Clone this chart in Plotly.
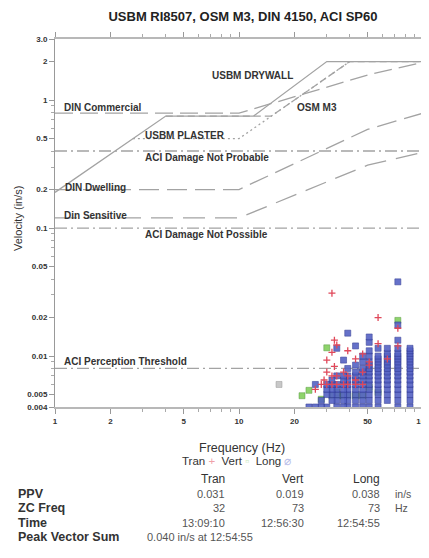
import numpy as np
import plotly.graph_objects as go

# ---------------- data ----------------
# criteria curves (frequency Hz, velocity in/s)
osm_freq = [1, 4, 12, 30, 100]
osm_vel = [0.19, 0.75, 0.75, 2.0, 2.0]
usbm_dry_freq = [4, 15, 40, 100]
usbm_dry_vel = [0.75, 0.75, 2.0, 2.0]
usbm_pl_freq = [2.65, 10, 40]
usbm_pl_vel = [0.5, 0.5, 2.0]
din_freq = [1, 10, 50, 100]
din_comm_vel = [0.79, 0.79, 1.57, 1.97]
din_dwell_vel = [0.20, 0.20, 0.59, 0.79]
din_sens_vel = [0.12, 0.12, 0.31, 0.39]
aci_freq = [1, 100]
aci_not_probable = [0.4, 0.4]
aci_not_possible = [0.1, 0.1]
aci_perception = [0.008, 0.008]

# measured points
long_col_freq = [85, 73, 64, 57, 51, 47, 43, 39, 37, 34, 32, 30, 28, 26, 24]
long_col_vel = [
    [0.0040, 0.0045, 0.0050, 0.0055, 0.0060, 0.0065, 0.0070, 0.0075, 0.0080, 0.0085, 0.0090, 0.0095, 0.0100, 0.0105, 0.0110, 0.0115],
    [0.0040, 0.0045, 0.0050, 0.0055, 0.0060, 0.0065, 0.0070, 0.0075, 0.0080, 0.0085, 0.0090, 0.0095, 0.0100, 0.0105, 0.0115, 0.0133, 0.0175, 0.0380],
    [0.0045, 0.0050, 0.0055, 0.0060, 0.0065, 0.0070, 0.0075, 0.0080, 0.0085, 0.0090, 0.0095, 0.0100, 0.0105, 0.0115],
    [0.0040, 0.0045, 0.0050, 0.0055, 0.0060, 0.0065, 0.0070, 0.0075, 0.0080, 0.0085, 0.0090, 0.0095, 0.0100, 0.0115],
    [0.0040, 0.0045, 0.0050, 0.0055, 0.0060, 0.0065, 0.0070, 0.0075, 0.0080, 0.0085, 0.0090, 0.0100, 0.0110, 0.0128, 0.0141],
    [0.0040, 0.0045, 0.0050, 0.0055, 0.0060, 0.0065, 0.0070, 0.0075, 0.0080, 0.0090, 0.0100],
    [0.0040, 0.0045, 0.0050, 0.0055, 0.0060, 0.0065, 0.0070, 0.0075, 0.0085, 0.0120],
    [0.0040, 0.0045, 0.0050, 0.0055, 0.0060, 0.0065, 0.0070, 0.0080, 0.0151],
    [0.0040, 0.0045, 0.0050, 0.0055, 0.0060, 0.0065, 0.0070, 0.0093],
    [0.0040, 0.0045, 0.0050, 0.0055, 0.0060, 0.0070, 0.0115],
    [0.0045, 0.0050, 0.0055, 0.0060, 0.0065],
    [0.0040, 0.0050, 0.0055, 0.0060],
    [0.0040, 0.0045],
    [0.0040, 0.0060],
    [0.0040],
]
tran_freq = [32, 57, 73, 33, 34, 32, 30, 33, 47, 39, 51, 43, 29, 30, 32, 34, 37, 39, 43, 47, 51, 57, 26, 28, 30, 32, 34, 37, 39, 43, 47, 64, 73]
tran_vel = [0.031, 0.020, 0.0165, 0.0133, 0.0122, 0.0107, 0.0093, 0.0083, 0.0104, 0.011, 0.009, 0.0095, 0.0065, 0.0075, 0.007, 0.007, 0.0075, 0.007, 0.0065, 0.0075, 0.0085, 0.0125, 0.0055, 0.006, 0.006, 0.006, 0.006, 0.006, 0.006, 0.006, 0.006, 0.0095, 0.012]
vert_freq = [73, 30, 22, 24, 35, 37, 39, 51, 47, 43, 32, 34, 28, 57]
vert_vel = [0.019, 0.0116, 0.0049, 0.0054, 0.0049, 0.0049, 0.0049, 0.0057, 0.0049, 0.0049, 0.0049, 0.0052, 0.0046, 0.0052]
misc_freq = [16.5]
misc_vel = [0.006]

x_tickvals = [1, 2, 5, 10, 20, 50, 100]
x_ticktext = ["1", "2", "5", "10", "20", "50", "100"]
x_minor = [3, 4, 6, 7, 8, 9, 30, 40, 60, 70, 80, 90]
y_tickvals = [0.004, 0.005, 0.01, 0.02, 0.05, 0.1, 0.2, 0.5, 1, 2, 3]
y_ticktext = ["0.004", "0.005", "0.01", "0.02", "0.05", "0.1", "0.2", "0.5", "1", "2", "3.0"]
y_minor = [0.006, 0.007, 0.008, 0.009, 0.03, 0.04, 0.06, 0.07, 0.08, 0.09,
           0.3, 0.4, 0.6, 0.7, 0.8, 0.9]

curve_labels = [
    ("USBM DRYWALL", 6.95, 1.57),
    ("DIN Commercial", 1.09, 0.88),
    ("OSM M3", 20.2, 0.88),
    ("USBM PLASTER", 3.0, 0.533),
    ("ACI Damage Not Probable", 3.0, 0.359),
    ("DIN Dwelling", 1.1, 0.209),
    ("Din Sensitive", 1.09, 0.126),
    ("ACI Damage Not Possible", 3.0, 0.0898),
    ("ACI Perception Threshold", 1.09, 0.0090),
]

table_cols = ["Tran", "Vert", "Long"]
ppv_vals = ["0.031", "0.019", "0.038"]
zc_vals = ["32", "73", "73"]
time_vals = ["13:09:10", "12:56:30", "12:54:55"]
pvs_text = "0.040 in/s at 12:54:55"

# ---------------- figure ----------------
OFF = 8  # page body margin
W, H = 429 - OFF, 558 - OFF
# plot area in page pixels: x 55..423, y 39..407
X0, X1, Y0, Y1 = 55, 423, 39, 407
L, T = X0 - OFF, Y0 - OFF
R, B = W - (X1 - OFF), H - (Y1 - OFF)
PW, PH = X1 - X0, Y1 - Y0

def px(x):
    return (x - X0) / PW

def py(y):
    return (Y1 - y) / PH

LINE = "#a3a3a3"
fig = go.Figure()

def add_line(xs, ys, dash, width=1.3):
    fig.add_trace(go.Scatter(x=xs, y=ys, mode="lines", showlegend=False,
                             line=dict(color=LINE, width=width, dash=dash),
                             hoverinfo="skip"))

add_line(aci_freq, aci_not_probable, "12px,4px,2px,4px")
add_line(aci_freq, aci_not_possible, "12px,4px,2px,4px")
add_line(aci_freq, aci_perception, "12px,4px,2px,4px")
add_line(din_freq, din_comm_vel, "18px,7px")
add_line(din_freq, din_dwell_vel, "20px,8px")
add_line(din_freq, din_sens_vel, "22px,10px")
add_line(usbm_pl_freq, usbm_pl_vel, "2px,3px")
add_line(usbm_dry_freq, usbm_dry_vel, "7px,4px")
add_line(osm_freq, osm_vel, "solid")

long_f = [f for f, vs in zip(long_col_freq, long_col_vel) for _ in vs]
long_v = [v for vs in long_col_vel for v in vs]

fig.add_trace(go.Scatter(x=misc_freq, y=misc_vel, mode="markers", showlegend=False,
                         marker=dict(symbol="square", size=6, color="#c8c8c8",
                                     line=dict(color="#999", width=0.5))))
fig.add_trace(go.Scatter(x=vert_freq, y=vert_vel, mode="markers", name="Vert", showlegend=False,
                         marker=dict(symbol="square", size=6, color="#8ed36c",
                                     line=dict(color="#5a9a44", width=0.5))))
fig.add_trace(go.Scatter(x=long_f, y=long_v, mode="markers", name="Long", showlegend=False,
                         marker=dict(symbol="square", size=6, color="#5562c4", opacity=0.9,
                                     line=dict(color="#2d3592", width=0.6))))
fig.add_trace(go.Scatter(x=tran_freq, y=tran_vel, mode="markers", name="Tran", showlegend=False,
                         marker=dict(symbol="cross-thin", size=5,
                                     line=dict(color="#e0485a", width=1.3))))

FONT = "Liberation Sans"
annotations = []
for txt, fx, fv in curve_labels:
    annotations.append(dict(x=np.log10(fx), y=np.log10(fv), xref="x", yref="y",
                            text=txt, showarrow=False, xanchor="left", yanchor="middle",
                            font=dict(family=FONT, size=10, color="#333", weight="bold")))

# axis titles / legend line
annotations.append(dict(x=px(18), y=py(219), xref="paper", yref="paper", text="Velocity (in/s)",
                        textangle=-90, showarrow=False, xanchor="center", yanchor="middle",
                        font=dict(family=FONT, size=11, color="#333")))
annotations.append(dict(x=px(242), y=py(448), xref="paper", yref="paper", text="Frequency (Hz)",
                        showarrow=False, xanchor="center", yanchor="middle",
                        font=dict(family=FONT, size=12.5, color="#333")))
annotations.append(dict(x=px(236), y=py(461), xref="paper", yref="paper",
                        text="Tran <span style='color:#f0a0a8'>+</span>  Vert <span style='color:#c8e8b8'>\u25ab</span>  Long <span style='color:#b8bde8'>\u2300</span>",
                        showarrow=False, xanchor="center", yanchor="middle",
                        font=dict(family=FONT, size=11.5, color="#333")))

# table
col_right = [227, 306, 382]
for cx, name in zip(col_right, table_cols):
    annotations.append(dict(x=px(cx), y=py(479), xref="paper", yref="paper", text=name,
                            showarrow=False, xanchor="right", yanchor="middle",
                            font=dict(family=FONT, size=12, color="#333")))
rows = [("PPV", ppv_vals, 494, "in/s"), ("ZC Freq", zc_vals, 508, "Hz"), ("Time", time_vals, 523, "")]
for lab, vals, yy, unit in rows:
    annotations.append(dict(x=px(16), y=py(yy), xref="paper", yref="paper", text=lab,
                            showarrow=False, xanchor="left", yanchor="middle",
                            font=dict(family=FONT, size=12.5, color="#333", weight="bold")))
    for cx, v in zip(col_right, vals):
        annotations.append(dict(x=px(cx), y=py(yy), xref="paper", yref="paper", text=v,
                                showarrow=False, xanchor="right", yanchor="middle",
                                font=dict(family=FONT, size=11, color="#555")))
    if unit:
        annotations.append(dict(x=px(393), y=py(yy), xref="paper", yref="paper", text=unit,
                                showarrow=False, xanchor="left", yanchor="middle",
                                font=dict(family=FONT, size=10.5, color="#555")))
annotations.append(dict(x=px(16), y=py(537), xref="paper", yref="paper", text="Peak Vector Sum",
                        showarrow=False, xanchor="left", yanchor="middle",
                        font=dict(family=FONT, size=12.5, color="#333", weight="bold")))
annotations.append(dict(x=px(145), y=py(537), xref="paper", yref="paper", text=pvs_text,
                        showarrow=False, xanchor="left", yanchor="middle",
                        font=dict(family=FONT, size=11, color="#555")))

fig.update_layout(
    width=W, height=H,
    margin=dict(l=L, r=R, t=T, b=B, autoexpand=False),
    paper_bgcolor="white", plot_bgcolor="white",
    title=dict(text="USBM RI8507, OSM M3, DIN 4150, ACI SP60", x=px(243), y=1 - (16 - OFF) / H,
               xanchor="center", yanchor="middle", xref="paper",
               font=dict(family=FONT, size=13, color="#222", weight="bold")),
    annotations=annotations,
    showlegend=False,
)
fig.update_xaxes(type="log", range=[0, 2], tickvals=x_tickvals, ticktext=x_ticktext,
                 ticks="outside", ticklen=5, tickcolor="#999", showgrid=False, zeroline=False,
                 showline=True, linecolor="#b8b8b8", linewidth=2, mirror="ticks",
                 ticklabeloverflow="allow",
                 tickfont=dict(family=FONT, size=8, color="#333", weight="bold"),
                 minor=dict(tickvals=x_minor, ticks="outside", ticklen=3, tickcolor="#aaa", showgrid=False))
fig.update_yaxes(type="log", range=[np.log10(0.004), np.log10(3)], tickvals=y_tickvals,
                 ticktext=y_ticktext, ticks="outside", ticklen=5, tickcolor="#999",
                 showgrid=False, zeroline=False, showline=True, linecolor="#999", linewidth=1,
                 mirror="ticks",
                 tickfont=dict(family=FONT, size=8, color="#333", weight="bold"),
                 minor=dict(tickvals=y_minor, ticks="outside", ticklen=3, tickcolor="#aaa", showgrid=False))

fig.write_html("out.html")
